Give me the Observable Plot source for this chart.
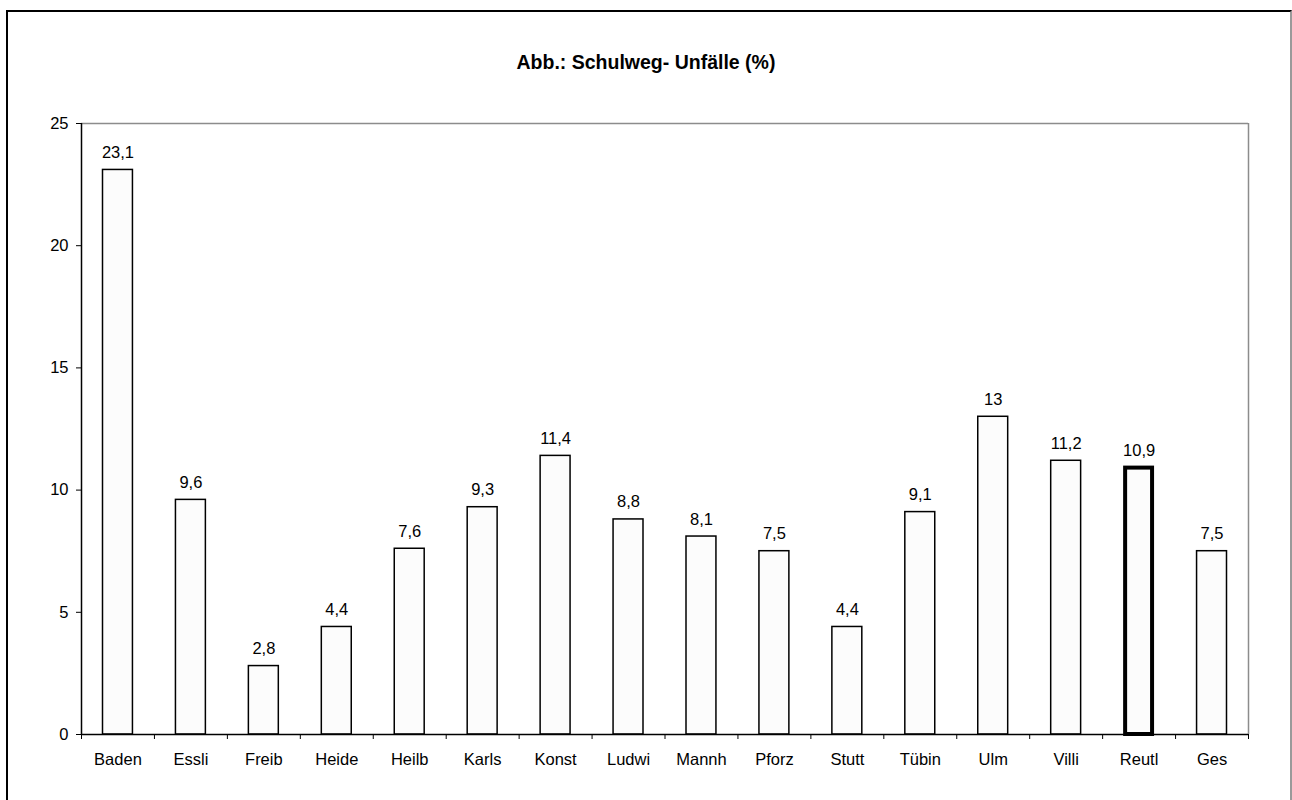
<!DOCTYPE html>
<html>
<head>
<meta charset="utf-8">
<script src="https://cdn.jsdelivr.net/npm/d3@7"></script>
<script src="https://cdn.jsdelivr.net/npm/@observablehq/plot@0.6"></script>
<style>
  html, body { margin: 0; padding: 0; background: #fff; }
  #wrap { position: relative; width: 1292px; height: 800px; overflow: hidden; font-family: "Liberation Sans", Arial, sans-serif; }
  #frame { position: absolute; left: 6px; top: 10px; width: 1286px; height: 820px;
           border-left: 2px solid #000; border-top: 2px solid #000; border-right: 2px solid #9a9a9a; box-sizing: border-box; }
  #title { position: absolute; left: 0; width: 1292px; top: 50px; text-align: center;
           font-size: 19.5px; font-weight: bold; color: #000; line-height: 24px; }
  #chart { position: absolute; left: 0; top: 0; }
</style>
</head>
<body>
<div id="wrap">
  <div id="frame"></div>
  <div id="title">Abb.: Schulweg- Unfälle (%)</div>
  <div id="chart"></div>
</div>
<script>
// Districts and their share of school-route accidents (%)
const districts = ["Baden", "Essli", "Freib", "Heide", "Heilb", "Karls", "Konst", "Ludwi",
                   "Mannh", "Pforz", "Stutt", "Tübin", "Ulm", "Villi", "Reutl", "Ges"];
const shares = [23.1, 9.6, 2.8, 4.4, 7.6, 9.3, 11.4, 8.8, 8.1, 7.5, 4.4, 9.1, 13, 11.2, 10.9, 7.5];
const highlighted = ["Reutl"];
const yTicks = [0, 5, 10, 15, 20, 25];

const rows = districts.map((name, i) => ({
  name, i, value: shares[i], hi: highlighted.includes(name)
}));
const fmt = v => String(v).replace(".", ",");
const n = districts.length;
const fs = 16.5;

const chart = Plot.plot({
  width: 1292,
  height: 800,
  marginLeft: 81,
  marginRight: 44,
  marginTop: 123,
  marginBottom: 66,
  style: { fontFamily: "Liberation Sans, Arial, sans-serif", fontSize: fs + "px", color: "#000", background: "transparent" },
  x: { domain: [0, n] },
  y: { domain: [0, 25] },
  marks: [
    // category labels at band centres
    Plot.axisX(rows.map(d => d.i + 0.5), {
      tickSize: 0, tickPadding: 19, tickFormat: v => districts[Math.round(v - 0.5)],
      label: null, fontSize: fs
    }),
    // separator ticks at band edges
    Plot.axisX(d3.range(0, n + 1), { tickSize: 5, tickFormat: () => "", label: null, stroke: "#000" }),
    Plot.axisY(yTicks, { tickSize: 5, tickPadding: 8, label: null, fontSize: fs, tickFormat: d => String(d) }),
    // plot-area border: grey top/right, black axes
    Plot.ruleY([25], { stroke: "#8c8c8c", strokeWidth: 1.5 }),
    Plot.ruleX([n], { stroke: "#8c8c8c", strokeWidth: 1.5 }),
    Plot.rectY(rows.filter(d => !d.hi), {
      x1: d => d.i, x2: d => d.i + 1, y: "value",
      insetLeft: 21.5, insetRight: 21.5,
      fill: "#fcfcfc", stroke: "#000", strokeWidth: 1.5
    }),
    Plot.rectY(rows.filter(d => d.hi), {
      x1: d => d.i, x2: d => d.i + 1, y: "value",
      insetLeft: 23, insetRight: 23,
      fill: "#fcfcfc", stroke: "#000", strokeWidth: 4
    }),
    Plot.ruleX([0], { stroke: "#000", strokeWidth: 1.5 }),
    Plot.ruleY([0], { stroke: "#000", strokeWidth: 1.5 }),
    Plot.text(rows, {
      x: d => d.i + 0.5, y: "value", text: d => fmt(d.value),
      lineAnchor: "bottom", dy: -12, fontSize: fs, fill: "#000"
    })
  ]
});
document.getElementById("chart").appendChild(chart);
</script>
</body>
</html>
